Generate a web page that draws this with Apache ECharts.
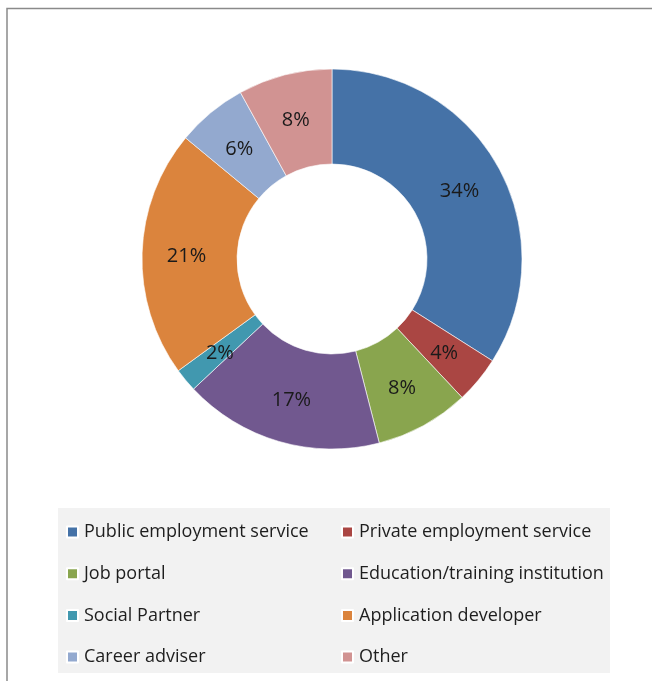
<!DOCTYPE html>
<html>
<head>
<meta charset="utf-8">
<script src="https://cdn.jsdelivr.net/npm/echarts@6/dist/echarts.min.js"></script>
<style>
  html, body { margin: 0; padding: 0; background: #fff; }
  #chart { width: 652px; height: 681px; }
</style>
</head>
<body>
<div id="chart"></div>
<script>
// Share of respondents by type of organisation
const categories = [
  'Public employment service',
  'Private employment service',
  'Job portal',
  'Education/training institution',
  'Social Partner',
  'Application developer',
  'Career adviser',
  'Other'
];
const shares = [34, 4, 8, 17, 2, 21, 6, 8];
const sliceColors = ['#4572A7', '#AA4643', '#89A54E', '#71588F', '#4198AF', '#DB843D', '#93A9CF', '#D19392'];

// Legend columns: left column holds even entries, right column odd entries
const leftColumn = categories.filter((_, i) => i % 2 === 0);
const rightColumn = categories.filter((_, i) => i % 2 === 1);

const FONT = '"Open Sans", sans-serif';

const chart = echarts.init(document.getElementById('chart'));

const legendBase = {
  orient: 'vertical',
  top: 523,
  padding: 0,
  itemWidth: 11,
  itemHeight: 11,
  itemGap: 23.7,
  icon: 'rect',
  textStyle: { fontFamily: FONT, fontSize: 18, color: '#1e1e1e', padding: [0, 0, 0, 1] },
  selectedMode: false
};

chart.setOption({
  animation: false,
  graphic: [
    { type: 'rect', shape: { x: 7, y: 8.5, width: 700, height: 700 },
      style: { fill: '#fff', stroke: '#8a8a8a', lineWidth: 1.5 }, z: -10 },
    { type: 'rect', shape: { x: 58, y: 508, width: 552, height: 165 },
      style: { fill: '#f2f2f2' }, z: -5 }
  ],
  legend: [
    Object.assign({}, legendBase, { left: 66, data: leftColumn }),
    Object.assign({}, legendBase, { left: 341, data: rightColumn })
  ],
  series: [{
    type: 'pie',
    center: [332, 259],
    radius: [95, 190],
    startAngle: 90,
    clockwise: true,
    avoidLabelOverlap: false,
    itemStyle: { borderColor: '#fff', borderWidth: 0.6 },
    label: {
      position: 'inside',
      formatter: '{c}%',
      fontFamily: FONT,
      fontSize: 20,
      color: '#1a1a1a',
      offset: [0, 2]
    },
    labelLine: { show: false },
    emphasis: { disabled: true },
    data: categories.map((name, i) => ({
      name: name,
      value: shares[i],
      itemStyle: { color: sliceColors[i] }
    }))
  }]
});
</script>
</body>
</html>
